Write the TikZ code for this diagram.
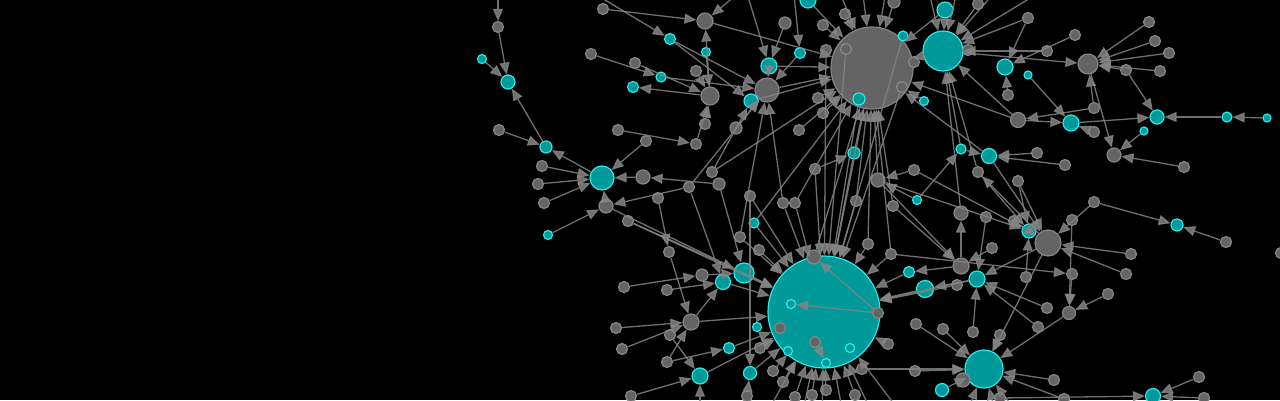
\documentclass[tikz,border=0pt]{standalone}
\usetikzlibrary{arrows.meta}
\definecolor{gfill}{RGB}{100,100,100}
\definecolor{gline}{RGB}{135,135,135}
\definecolor{cfill}{RGB}{0,153,153}
\definecolor{cline}{RGB}{40,235,235}
\definecolor{egray}{RGB}{132,132,132}
\tikzset{
 gnode/.style={circle,draw=gline,fill=gfill,line width=1.2pt,inner sep=0pt},
 cnode/.style={circle,draw=cline,fill=cfill,line width=1.2pt,inner sep=0pt},
 lnk/.style={draw=egray,line width=1.3pt,opacity=0.85,-{Triangle[length=12pt,width=10pt]}},
}
\newcommand\Gnd[4]{\node[gnode,minimum size=#4pt] (#1) at (#2,#3) {};}
\newcommand\Cnd[4]{\node[cnode,minimum size=#4pt] (#1) at (#2,#3) {};}
\begin{document}
\begin{tikzpicture}[x=1pt,y=-1pt]
\fill[black] (0,0) rectangle (1280,400);
\useasboundingbox (0,0) rectangle (1280,400);
\clip (0,0) rectangle (1280,400);
% big nodes
\Cnd{C1}{824}{312}{112}
\Gnd{G1}{872}{68}{82}
\Cnd{C2}{943}{51}{40}
\Cnd{C3}{984}{369}{38}
\Gnd{G2}{1048}{243}{26}
\Gnd{G3}{1088}{64}{20}
\Gnd{G4}{767}{90}{24}
\Cnd{C4}{602}{178}{24}
\Cnd{C10}{744}{273}{20}
\Gnd{G5}{710}{96}{18}
\Gnd{G6}{705}{21}{16}
\Gnd{G7}{691}{322}{16}
\Gnd{G8}{1114}{155}{14}
\Gnd{G9}{1069}{313}{13}
\Gnd{G10}{878}{180}{14}
\Gnd{G11}{961}{266}{16}
\Gnd{G12}{1018}{120}{15}
\Gnd{G13}{606}{206}{14}
% cyan nodes
\Cnd{C5}{1071}{123}{16}
\Cnd{C6}{1005}{67}{16}
\Cnd{C7}{989}{156}{15}
\Cnd{C8}{925}{289}{17}
\Cnd{C9}{977}{279}{16}
\Cnd{C11}{700}{376}{16}
\Cnd{C12}{1157}{117}{14}
\Cnd{C13}{1177}{225}{12}
\Cnd{C14}{1153}{396}{15}
\Cnd{C15}{508}{82}{14}
\Cnd{C16}{546}{147}{12}
\Cnd{C17}{769}{66}{16}
\Cnd{C18}{751}{101}{14}
\Cnd{C19}{945}{10}{16}
\Cnd{C20}{808}{0}{16}
\Cnd{C21}{1029}{231}{14}
\Cnd{C22}{723}{282}{15}
\Cnd{C23}{854}{153}{12}
\Cnd{C24}{961}{149}{10}
\Cnd{C25}{1227}{117}{10}
\Cnd{C26}{1267}{118}{8}
\Cnd{C27}{482}{59}{9}
\Cnd{C28}{548}{235}{9}
\Cnd{C29}{670}{39}{11}
\Cnd{C30}{706}{52}{9}
\Cnd{C31}{661}{77}{10}
\Cnd{C32}{633}{87}{11}
\Cnd{C33}{800}{53}{11}
\Cnd{C34}{859}{99}{12}
\Cnd{C35}{903}{36}{10}
\Cnd{C36}{924}{101}{9}
\Cnd{C37}{1028}{75}{8}
\Cnd{C38}{1144}{131}{8}
\Cnd{C39}{917}{200}{9}
\Cnd{C40}{754}{223}{10}
\Cnd{C41}{909}{272}{11}
\Cnd{C42}{729}{348}{11}
\Cnd{C43}{757}{327}{9}
\Cnd{C44}{750}{373}{13}
\Cnd{C45}{942}{390}{13}
\Cnd{C46}{791}{304}{9}
\Cnd{C47}{788}{351}{9}
\Cnd{C48}{850}{348}{9}
\Cnd{C49}{826}{363}{9}
% small gray nodes
\Gnd{g1}{498}{27}{11}
\Gnd{g2}{499}{130}{11}
\Gnd{g3}{542}{166}{11}
\Gnd{g4}{538}{184}{11}
\Gnd{g5}{544}{203}{11}
\Gnd{g6}{618}{130}{11}
\Gnd{g7}{646}{141}{11}
\Gnd{g8}{643}{177}{14}
\Gnd{g9}{689}{187}{11}
\Gnd{g10}{658}{198}{11}
\Gnd{g11}{628}{221}{11}
\Gnd{g12}{669}{252}{11}
\Gnd{g13}{603}{9}{11}
\Gnd{g14}{591}{54}{11}
\Gnd{g15}{635}{63}{11}
\Gnd{g16}{696}{71}{11}
\Gnd{g17}{785}{23}{12}
\Gnd{g18}{705}{124}{11}
\Gnd{g19}{736}{128}{12}
\Gnd{g20}{696}{144}{11}
\Gnd{g21}{719}{184}{12}
\Gnd{g22}{712}{172}{11}
\Gnd{g23}{750}{196}{11}
\Gnd{g24}{799}{130}{11}
\Gnd{g25}{818}{98}{11}
\Gnd{g26}{823}{113}{11}
\Gnd{g27}{815}{169}{11}
\Gnd{g28}{856}{201}{11}
\Gnd{g29}{783}{203}{11}
\Gnd{g30}{795}{203}{11}
\Gnd{g31}{740}{237}{11}
\Gnd{g32}{759}{250}{11}
\Gnd{g33}{814}{257}{14}
\Gnd{g34}{868}{244}{11}
\Gnd{g35}{894}{2}{12}
\Gnd{g36}{978}{4}{11}
\Gnd{g37}{1028}{18}{11}
\Gnd{g38}{1047}{51}{11}
\Gnd{g39}{1075}{35}{11}
\Gnd{g40}{1126}{70}{11}
\Gnd{g41}{1149}{22}{11}
\Gnd{g42}{1155}{41}{11}
\Gnd{g43}{1169}{53}{11}
\Gnd{g44}{1160}{71}{11}
\Gnd{g45}{1008}{95}{11}
\Gnd{g46}{1094}{108}{11}
\Gnd{g47}{1094}{132}{11}
\Gnd{g48}{1184}{167}{11}
\Gnd{g49}{1065}{165}{11}
\Gnd{g50}{1037}{153}{11}
\Gnd{g51}{978}{172}{11}
\Gnd{g52}{1018}{181}{11}
\Gnd{g53}{914}{170}{11}
\Gnd{g54}{893}{206}{11}
\Gnd{g55}{961}{213}{14}
\Gnd{g56}{986}{217}{11}
\Gnd{g57}{1014}{221}{11}
\Gnd{g58}{992}{248}{11}
\Gnd{g59}{891}{254}{11}
\Gnd{g60}{1072}{220}{11}
\Gnd{g61}{1094}{202}{11}
\Gnd{g62}{1226}{242}{11}
\Gnd{g63}{1281}{253}{11}
\Gnd{g64}{1131}{254}{11}
\Gnd{g65}{1126}{274}{11}
\Gnd{g66}{1072}{274}{11}
\Gnd{g67}{1108}{294}{11}
\Gnd{g68}{1047}{308}{11}
\Gnd{g69}{1038}{327}{11}
\Gnd{g70}{1026}{277}{11}
\Gnd{g71}{1054}{380}{11}
\Gnd{g72}{1199}{377}{11}
\Gnd{g73}{1204}{398}{11}
\Gnd{g74}{702}{275}{12}
\Gnd{g75}{624}{287}{11}
\Gnd{g76}{667}{290}{11}
\Gnd{g77}{616}{328}{11}
\Gnd{g78}{622}{349}{11}
\Gnd{g79}{670}{335}{11}
\Gnd{g80}{667}{362}{11}
\Gnd{g81}{760}{348}{11}
\Gnd{g82}{631}{396}{11}
\Gnd{g83}{747}{396}{11}
\Gnd{g84}{773}{371}{11}
\Gnd{g85}{783}{382}{11}
\Gnd{g86}{795}{397}{11}
\Gnd{g87}{812}{395}{11}
\Gnd{g88}{826}{390}{11}
\Gnd{g89}{780}{328}{11}
\Gnd{g90}{815}{342}{11}
\Gnd{g91}{878}{313}{11}
\Gnd{g92}{862}{369}{11}
\Gnd{g93}{888}{344}{11}
\Gnd{g94}{916}{324}{11}
\Gnd{g95}{943}{329}{11}
\Gnd{g96}{973}{332}{11}
\Gnd{g97}{957}{285}{11}
\Gnd{g98}{1000}{335}{11}
\Gnd{g99}{963}{380}{14}
\Gnd{g100}{915}{371}{11}
\Gnd{g101}{855}{395}{11}
\Gnd{g102}{1000}{398}{11}
\Gnd{g103}{1064}{399}{11}
\Gnd{g106}{846}{49}{11}
\Gnd{g107}{826}{50}{11}
\Gnd{g108}{823}{25}{11}
\Gnd{g109}{845}{14}{11}
\Gnd{g110}{968}{50}{11}
\Gnd{g111}{914}{62}{11}
\Gnd{g112}{902}{87}{11}
% off-canvas ends
\coordinate (o0) at (498,-30);
\coordinate (o1) at (760,-25);
\coordinate (o2) at (580,-15);
\coordinate (o3) at (792,-25);
\coordinate (o4) at (740,-30);
\coordinate (o5) at (1060,-20);
\coordinate (o6) at (925,-25);
\coordinate (o7) at (962,-30);
\coordinate (o8) at (1010,-25);
\coordinate (o9) at (860,-30);
\coordinate (o10) at (890,-30);
\coordinate (o11) at (830,-30);
\coordinate (o12) at (800,425);
\coordinate (o13) at (845,425);
\coordinate (o14) at (760,425);
\coordinate (o15) at (1000,430);
\coordinate (o16) at (960,430);
\coordinate (o17) at (880,430);
\coordinate (o18) at (822,430);
\coordinate (o19) at (1030,430);
\coordinate (o20) at (700,430);
\coordinate (o21) at (910,425);
% connectors
\foreach \a/\b in {
o0/g1, g1/C15, C27/C15, C16/C15, g2/C16, C4/C16, g3/C4, g4/C4, g5/C4, G13/C4,
g7/C4, g8/C4, C28/G13, g9/G13, g10/g12, g6/g20, g11/C10, g21/g8,
g13/G6, o1/G6, G5/G6, o2/C29, C29/G4, g14/C31, C31/G4, g15/G5, G5/C32, g16/G5,
C17/G4, g17/C17, o3/C33, C33/G4, G4/G1, C18/G1, g29/G4, g31/G4, g18/G5, g19/G4,
g22/C18, g20/G5, C30/G5, o4/C17, G6/G1, C29/C18,
g25/G1, g26/G1, g24/G1, C23/G1, G10/G1, g28/G1, g34/G1, g108/G1, g109/G1,
C20/G1, o9/G1, o10/G1, o11/G1, g35/G1, C19/G1, C2/G1, C7/G1, G12/G1, C36/G1,
g33/G1, g59/G1, C17/G1, g30/G1, C40/G1, g54/G1, g22/G1, g9/G4,
C34/C1, G1/C1, C23/C1, g27/C23, g27/C1, g106/C1, g107/C1, g112/C1, C35/C1,
C19/C2, o6/C2, o7/C2, o8/C2, g36/C2, g37/C2, g38/C2, G12/C2, g55/C2, C2/G3,
g45/C6, g37/C6, g39/C6, o5/C2, C24/C2, g51/C2,
g40/G3, g41/G3, g42/G3, g43/G3, g44/G3, g46/G3,
g40/C12, C5/C12, C25/C12, C26/C25,
C38/G8, g48/G8, G3/G8,
C37/C5, g47/C5, G12/C5,
C24/C7, g49/C7, g50/C7, g46/G12,
g53/G10, C39/G10, C39/C24,
G11/g55, g51/C21, g52/C21, g56/C9, g57/G2, g60/G9, g61/G2, g61/C13, g62/C13,
g64/G2, g65/G2, g67/G9, g59/g66, g66/G9, G2/C3, G9/C3, g68/C9, g69/C9, g70/C21,
g71/C3, g72/C14, g73/C14, g102/C14, g98/C3, C45/C3, g100/C3, g94/C3, g95/C3,
g96/C9, g103/C3, G2/g51, G10/C21, C9/C8, C8/C1, C41/C1, G11/C41, g92/C3,
g58/G11, g54/G11, G10/G11, C7/G2, g52/G2, G2/C9, g53/C21, C9/C1, g97/C1,
C10/C1, C22/C1, g74/C10, G7/C1, C42/C1, g81/C1, g84/C1, g85/C1, g86/C1, g87/C1,
g88/C1, g101/C1, C44/C1, C11/C1, g30/C1, g32/C1, C40/C1, g93/C1, g28/C1,
g29/C1, g34/C1, g59/C1, g23/C1, G13/C1, g11/C1, g31/C1,
g91/g33, g91/C46, g90/C49,
g76/C22, G7/C22, g75/g74, g12/G7, g77/G7, g78/G7, g80/G7, g79/C11, g82/C11,
g80/C42, g23/C44, g83/C44, g21/C10, g9/C22,
o12/C1, o13/C1, o14/C1, o15/C3, o16/C3, o17/C1, o18/C1, o19/C3, o20/C11, o21/C1}
{\draw[lnk] (\a) -- (\b);}
\end{tikzpicture}
\end{document}
